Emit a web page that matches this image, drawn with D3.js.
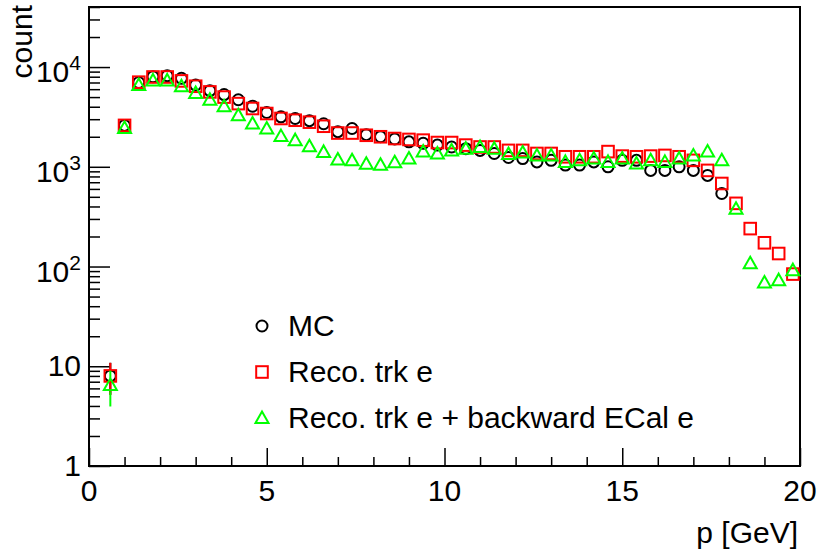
<!DOCTYPE html>
<html>
<head>
<meta charset="utf-8">
<script src="https://cdn.jsdelivr.net/npm/d3@7"></script>
<style>
  body { margin: 0; background: #fff; }
  svg { display: block; font-family: "Liberation Sans", Arial, sans-serif; }
</style>
</head>
<body>
<div id="chart"></div>
<script>
// bin centres in GeV (0.4 GeV bins)
var pBins = [0.6, 1.0, 1.4, 1.8, 2.2, 2.6, 3.0, 3.4, 3.8, 4.2, 4.6, 5.0, 5.4, 5.8, 6.2, 6.6, 7.0, 7.4, 7.8, 8.2,
  8.6, 9.0, 9.4, 9.8, 10.2, 10.6, 11.0, 11.4, 11.8, 12.2, 12.6, 13.0, 13.4, 13.8, 14.2, 14.6, 15.0, 15.4, 15.8, 16.2,
  16.6, 17.0, 17.4, 17.8, 18.2, 18.6, 19.0, 19.4, 19.8];

var mcCounts = [8, 2600, 7000, 8000, 8200, 7700, 6600, 5800, 5300, 4700, 4050, 3500, 3170, 3050, 2900, 2700, 2250, 2420, 2100, 2000,
  1900, 1780, 1720, 1650, 1580, 1520, 1460, 1360, 1240, 1210, 1120, 1160, 1040, 1040, 1120, 1000, 1160, 1160, 920, 920,
  1000, 920, 820, 540, null, null, null, null, null];

var recoCounts = [8, 2600, 7050, 7950, 7950, 7260, 6420, 5630, 5000, 4300, 3840, 3420, 3050, 2930, 2800, 2550, 2180, 2180, 2070, 2000,
  1920, 1880, 1850, 1750, 1750, 1650, 1580, 1580, 1460, 1460, 1360, 1360, 1260, 1260, 1260, 1420, 1280, 1260, 1280, 1300,
  1260, 1160, 920, 680, 430, 240, 173, 135, 84];

var recoEcalCounts = [6.5, 2450, 6600, 7350, 7350, 6420, 5500, 4700, 4050, 3290, 2720, 2420, 2030, 1850, 1610, 1410, 1180, 1160, 1070, 1050,
  1110, 1210, 1420, 1360, 1460, 1520, 1580, 1520, 1340, 1390, 1300, 1300, 1120, 1160, 1210, 1120, 1210, 1080, 1160, 1120,
  1210, 1300, 1420, 1160, 380, 108, 69, 73, 92];

var seriesNames = ["MC", "Reco. trk e", "Reco. trk e + backward ECal e"];
var xMajorTicks = [0, 5, 10, 15, 20];
var yMajorTicks = [1, 10, 100, 1000, 10000];
var yTickLabels = [["1", ""], ["10", ""], ["10", "2"], ["10", "3"], ["10", "4"]];

var svgWidth = 819, svgHeight = 549;
var margin = {top: 7, right: 19, bottom: 83, left: 89};
var width = svgWidth - margin.left - margin.right;
var height = svgHeight - margin.top - margin.bottom;

var svg = d3.select("#chart").append("svg")
  .attr("width", svgWidth)
  .attr("height", svgHeight);

var g = svg.append("g")
  .attr("transform", `translate(${margin.left}, ${margin.top})`);

var x = d3.scaleLinear().domain([0, 20]).range([0, width]);
var y = d3.scaleLog().domain([1, 40000]).range([height, 0]);

// x ticks (inward)
var xMinor = d3.range(0, 21, 1).filter(v => v % 5 !== 0);
g.append("g")
  .attr("transform", `translate(0, ${height})`)
  .call(d3.axisBottom(x).tickValues(xMinor).tickSize(-9).tickFormat(""))
  .call(a => a.select(".domain").remove());
g.append("g")
  .attr("transform", `translate(0, ${height})`)
  .call(d3.axisBottom(x).tickValues(xMajorTicks).tickSize(-18).tickFormat(""))
  .call(a => a.select(".domain").remove());

// y ticks (inward)
var yMinor = [];
yMajorTicks.forEach(function(d) {
  for (var k = 2; k <= 9; k++) if (d * k <= 40000) yMinor.push(d * k);
});
g.append("g")
  .call(d3.axisLeft(y).tickValues(yMinor).tickSize(-11).tickFormat(""))
  .call(a => a.select(".domain").remove());
g.append("g")
  .call(d3.axisLeft(y).tickValues(yMajorTicks).tickSize(-21).tickFormat(""))
  .call(a => a.select(".domain").remove());

g.selectAll(".tick line").attr("stroke", "#000").attr("stroke-width", 1.5);

// frame
g.append("rect")
  .attr("x", 0).attr("y", 0)
  .attr("width", width).attr("height", height)
  .attr("fill", "none")
  .attr("stroke", "#000")
  .attr("stroke-width", 2);

// tick labels
g.selectAll(".xlab")
  .data(xMajorTicks)
  .enter()
  .append("text")
  .attr("x", d => x(d))
  .attr("y", height + 35)
  .attr("text-anchor", "middle")
  .attr("font-size", "30px")
  .text(d => d);

yMajorTicks.forEach(function(d, i) {
  var lab = yTickLabels[i];
  var t = g.append("text")
    .attr("x", -8)
    .attr("y", y(d) + (lab[1] ? 15 : 10))
    .attr("text-anchor", "end")
    .attr("font-size", "30px");
  t.append("tspan").text(lab[0]);
  if (lab[1]) {
    t.append("tspan").attr("dy", -12).attr("font-size", "21px").text(lab[1]);
  }
});

// axis titles
g.append("text")
  .attr("x", width - 2)
  .attr("y", height + 77)
  .attr("text-anchor", "end")
  .attr("font-size", "30px")
  .text("p [GeV]");

g.append("text")
  .attr("transform", "rotate(-90)")
  .attr("x", 2)
  .attr("y", -57)
  .attr("text-anchor", "end")
  .attr("font-size", "30px")
  .text("count");

// markers
var colors = ["#000000", "#ff0000", "#00ff00"];
var half = 6.5;

function marker(sel, type, color) {
  if (type === 0) {
    sel.append("circle").attr("r", 5.5);
  } else if (type === 1) {
    sel.append("rect").attr("x", -5.8).attr("y", -5.8).attr("width", 11.6).attr("height", 11.6);
  } else {
    sel.append("path").attr("d", "M0,-6.5L6.5,5L-6.5,5Z");
  }
  sel.selectAll("circle,rect,path")
    .attr("fill", "none")
    .attr("stroke", color)
    .attr("stroke-width", 2);
}

var allSeries = [mcCounts, recoCounts, recoEcalCounts];
allSeries.forEach(function(vals, si) {
  var pts = pBins.map((p, i) => ({p: p, v: vals[i]})).filter(d => d.v != null && d.v > 0);
  var sg = g.append("g");
  // sqrt(N) error bars, drawn outside the marker
  pts.forEach(function(d) {
    var cy = y(d.v);
    var yUp = y(d.v + Math.sqrt(d.v));
    var yLo = d.v - Math.sqrt(d.v) > 1 ? y(d.v - Math.sqrt(d.v)) : height;
    if (yUp < cy - half) {
      sg.append("line").attr("x1", x(d.p)).attr("x2", x(d.p))
        .attr("y1", yUp).attr("y2", cy - half)
        .attr("stroke", colors[si]).attr("stroke-width", 2);
    }
    if (yLo > cy + half) {
      sg.append("line").attr("x1", x(d.p)).attr("x2", x(d.p))
        .attr("y1", cy + half).attr("y2", yLo)
        .attr("stroke", colors[si]).attr("stroke-width", 2);
    }
  });
  sg.selectAll(".m" + si)
    .data(pts)
    .enter()
    .append("g")
    .attr("transform", d => `translate(${x(d.p)}, ${y(d.v)})`)
    .each(function() { marker(d3.select(this), si, colors[si]); });
});

// legend
var legendY = [326, 372, 418];
seriesNames.forEach(function(name, i) {
  var lg = svg.append("g").attr("transform", `translate(262, ${legendY[i]})`);
  marker(lg, i, colors[i]);
  svg.append("text")
    .attr("x", 288)
    .attr("y", legendY[i] + 10)
    .attr("font-size", "30px")
    .text(name);
});
</script>
</body>
</html>
